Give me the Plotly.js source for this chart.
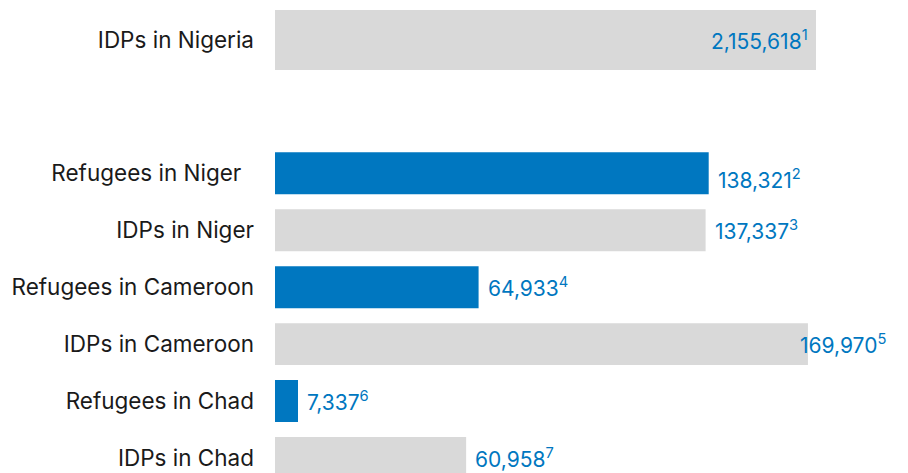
<!DOCTYPE html>
<html>
<head>
<meta charset="utf-8">
<script src="https://cdn.plot.ly/plotly-3.0.1.min.js"></script>
<style>html,body{margin:0;padding:0;background:#fff;}#chart{width:908px;height:473px;}</style>
</head>
<body>
<div id="chart"></div>
<script>
// Top panel (own scale)
const topCategory = ["IDPs in Nigeria"];
const topValue = [2155618];
const topNote = ["1"];

// Bottom panel
const categories = ["Refugees in Niger", "IDPs in Niger", "Refugees in Cameroon", "IDPs in Cameroon", "Refugees in Chad", "IDPs in Chad"];
const values = [138321, 137337, 64933, 169970, 7337, 60958];
const notes = ["2", "3", "4", "5", "6", "7"];
const groups = ["Refugees", "IDPs", "Refugees", "IDPs", "Refugees", "IDPs"];

const BLUE = "#0077C0";
const GREY = "#D9D9D9";
const FONT = "Inter, Lato, sans-serif";
const CAT_SIZE = 22.5;
const NUM_SIZE = 21;
const fmt = v => v.toLocaleString("en-US");

const W = 908, H = 473, L = 275;
const plotW = W - L;
const kBottom = 433.7 / 138321;           // px per unit (bottom panel)
const kTop = 541 / 2155618;               // px per unit (top panel)

const traces = [
  {
    type: "bar", orientation: "h",
    x: topValue, y: topCategory,
    xaxis: "x2", yaxis: "y2",
    marker: {color: GREY}, width: 0.75,
    hoverinfo: "none"
  },
  {
    type: "bar", orientation: "h",
    x: values, y: categories,
    xaxis: "x", yaxis: "y",
    marker: {color: groups.map(g => g === "Refugees" ? BLUE : GREY)},
    width: 0.737,
    hoverinfo: "none"
  }
];

const annotations = [];
topValue.forEach((v, i) => {
  annotations.push({
    xref: "x2", yref: "y2", x: v, y: topCategory[i],
    text: fmt(v) + "<sup>" + topNote[i] + "</sup>",
    xanchor: "right", yanchor: "middle", xshift: -6, showarrow: false,
    font: {family: FONT, size: NUM_SIZE, color: BLUE}
  });
});
values.forEach((v, i) => {
  const px = L + v * kBottom;
  const overflow = px + 10 + 95 > W;
  annotations.push({
    xref: "x", yref: "y", x: v, y: categories[i],
    text: fmt(v) + "<sup>" + notes[i] + "</sup>",
    xanchor: "left", yanchor: "middle",
    xshift: overflow ? -10 : 7, yshift: i === 0 ? -6 : 0,
    showarrow: false,
    font: {family: FONT, size: NUM_SIZE, color: BLUE}
  });
});

const bottomTopPx = 173.3 - 0.5 * 57;
const layout = {
  width: W, height: H,
  margin: {l: L, r: 0, t: 0, b: 0, pad: 0},
  paper_bgcolor: "#fff", plot_bgcolor: "#fff",
  showlegend: false,
  font: {family: FONT, size: CAT_SIZE, color: "#1a1a1a"},
  xaxis: {range: [0, plotW / kBottom], visible: false, fixedrange: true},
  yaxis: {
    domain: [0, (H - bottomTopPx) / H],
    range: [5 + (H - 458) / 57, -0.5],
    type: "category",
    tickvals: categories,
    ticktext: categories.map((c, i) => i === 0 ? c + "\u00a0\u00a0" : c),
    ticks: "", showgrid: false, zeroline: false, showline: false,
    ticklabelstandoff: 20,
    tickfont: {family: FONT, size: CAT_SIZE, color: "#1a1a1a"}
  },
  xaxis2: {range: [0, plotW / kTop], visible: false, anchor: "y2", fixedrange: true},
  yaxis2: {
    domain: [1 - 80 / H, 1],
    range: [0.5, -0.5],
    type: "category", anchor: "x2",
    ticks: "", showgrid: false, zeroline: false, showline: false,
    ticklabelstandoff: 20,
    tickfont: {family: FONT, size: CAT_SIZE, color: "#1a1a1a"}
  },
  annotations: annotations
};

Plotly.newPlot("chart", traces, layout, {displayModeBar: false, staticPlot: true});
</script>
</body>
</html>
